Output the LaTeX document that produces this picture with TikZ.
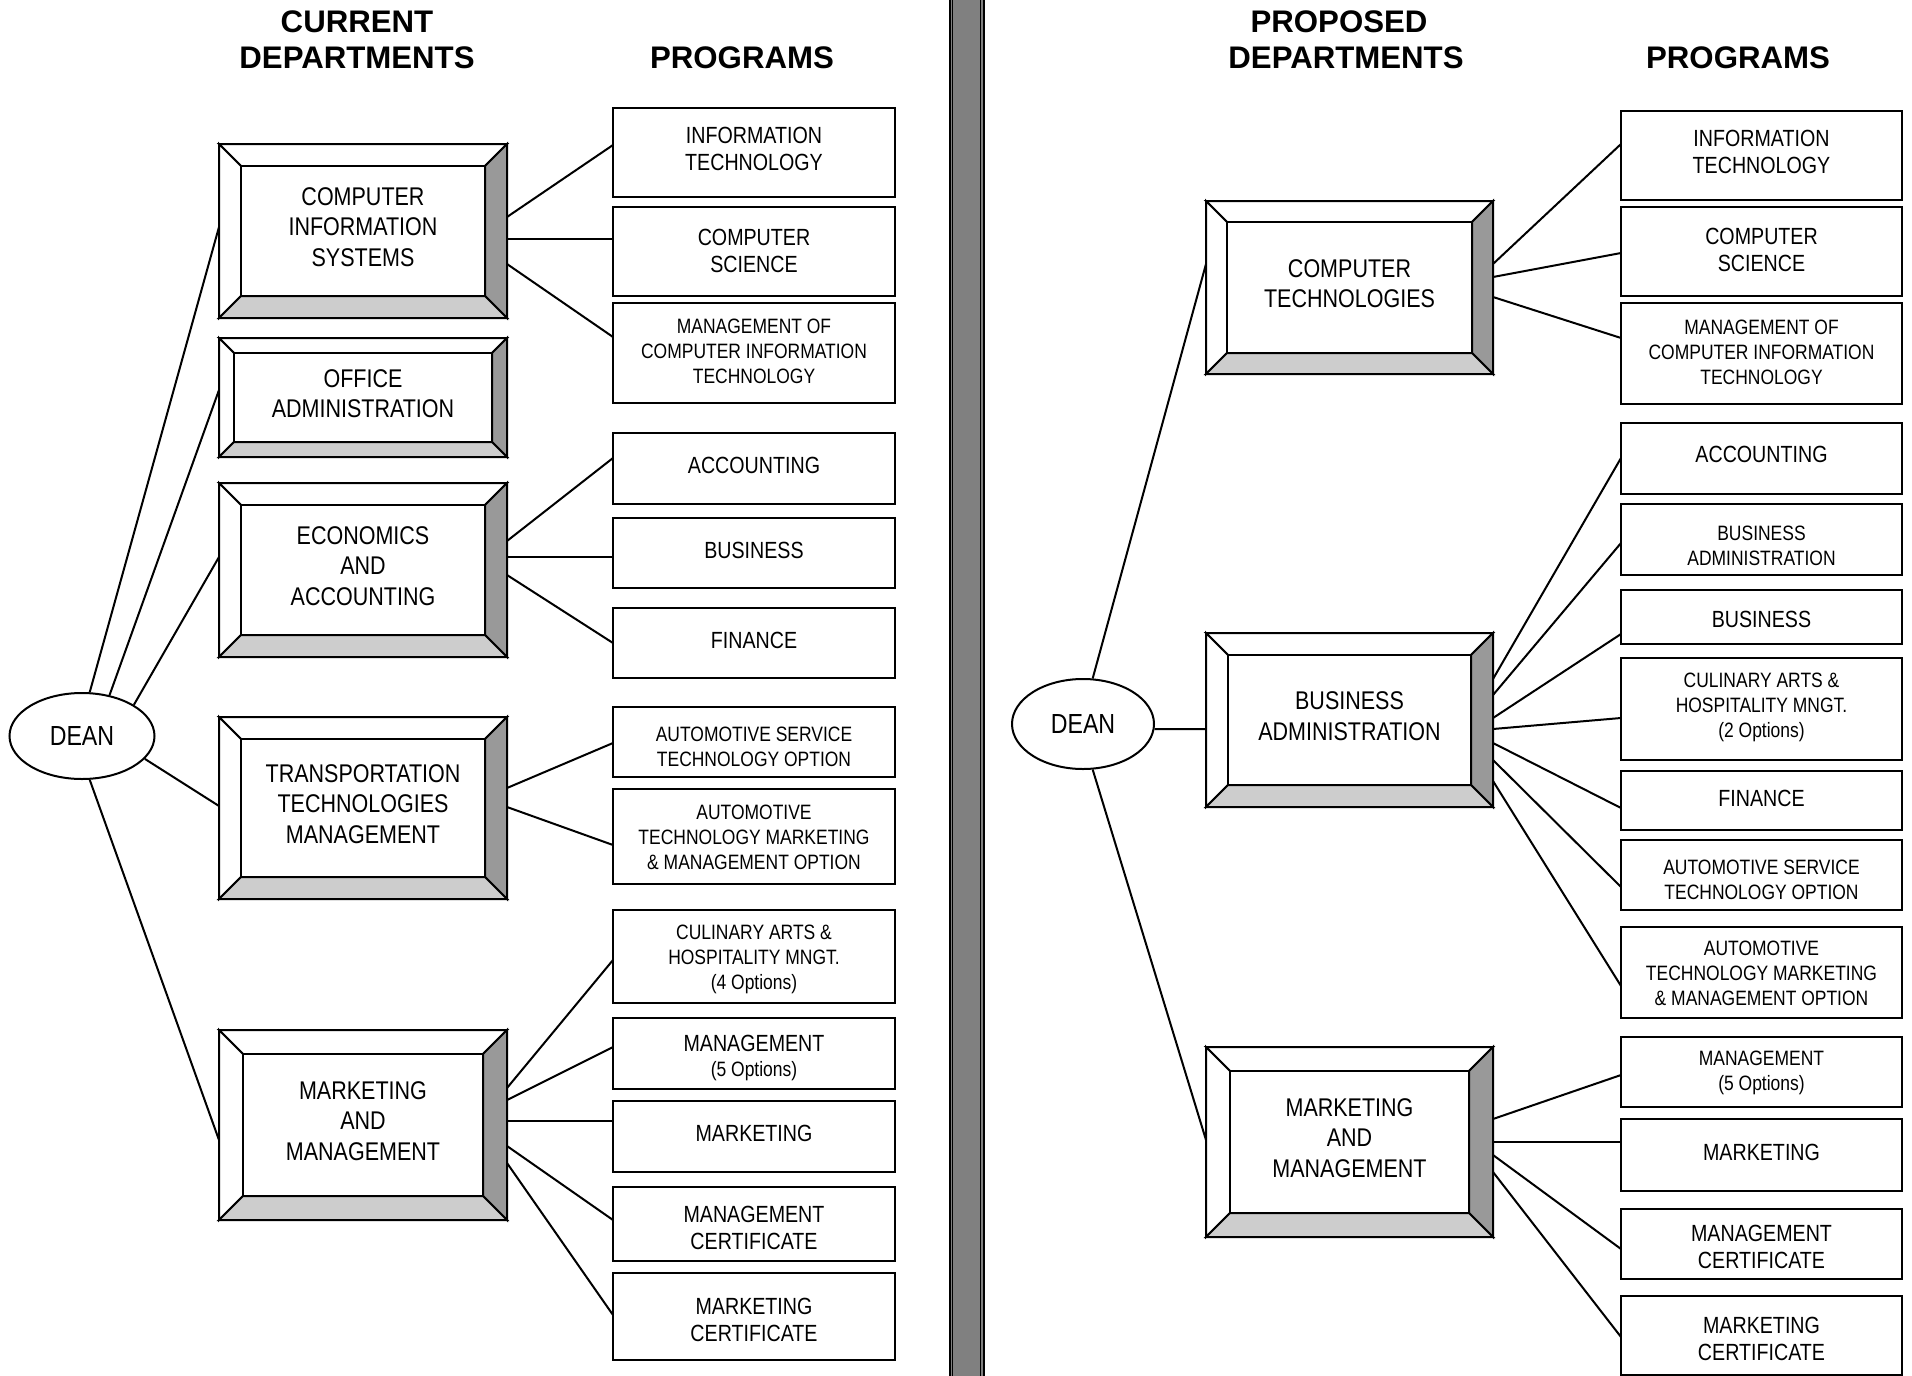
\documentclass[tikz,border=0pt]{standalone}
\usepackage{fontspec}
\setmainfont{Liberation Sans}
\newfontfamily\narrowfont[FakeStretch=0.84]{Liberation Sans}
\usetikzlibrary{calc,shapes.geometric}
\definecolor{bevelR}{HTML}{999999}
\definecolor{bevelB}{HTML}{CDCDCD}
\definecolor{divgray}{HTML}{808080}
\newcommand\psmall{\fontsize{10.4}{12.5}\selectfont}
\newcommand\plarge{\fontsize{11.7}{13.5}\selectfont}
\tikzset{
  frame/.style={draw, line width=1pt, inner sep=0pt, outer sep=0pt, fill=white},
  progtext/.style={align=center, inner sep=0pt, font=\narrowfont\plarge},
  progsmall/.style={align=center, inner sep=0pt, font=\narrowfont\psmall},
  depttext/.style={align=center, inner sep=0pt, font=\narrowfont\fontsize{12.8}{15.2}\selectfont},
  bevel/.style={draw, line width=1pt, line join=miter},
  conn/.style={draw, line width=1pt},
  head/.style={inner sep=0pt, font=\bfseries\fontsize{15.6}{18.3}\selectfont},
  dean/.style={ellipse, draw, line width=1pt, inner sep=0pt, fill=white, font=\narrowfont\fontsize{13.8}{16}\selectfont}
}
% #1 text style, #2 name, #3..#6 x1 y1 x2 y2, #7 text
\newcommand\progbox[7][progtext]{%
  \node[frame, minimum width={(#5-#3)*0.5pt}, minimum height={(#6-#4)*0.5pt}] (#2) at ({(#3+#5)/2},{(#4+#6)/2}) {};
  \node[progtext,#1] at ([yshift=2pt]#2.center) {#7};}
\newcommand\deptbox[7]{%
  \node[frame, minimum width={(#4-#2)*0.5pt}, minimum height={(#5-#3)*0.5pt}] (#1) at ({(#2+#4)/2},{(#3+#5)/2}) {};
  \path[bevel, fill=white] (#1.north west) -- (#1.north east) -- ($(#1.north east)+(-#6,#6)$) -- ($(#1.north west)+(#6,#6)$) -- cycle;
  \path[bevel, fill=white] (#1.north west) -- ($(#1.north west)+(#6,#6)$) -- ($(#1.south west)+(#6,-#6)$) -- (#1.south west) -- cycle;
  \path[bevel, fill=bevelR] (#1.north east) -- (#1.south east) -- ($(#1.south east)+(-#6,-#6)$) -- ($(#1.north east)+(-#6,#6)$) -- cycle;
  \path[bevel, fill=bevelB] (#1.south west) -- (#1.south east) -- ($(#1.south east)+(-#6,-#6)$) -- ($(#1.south west)+(#6,-#6)$) -- cycle;
  \path[bevel, fill=white] ($(#1.north west)+(#6,#6)$) rectangle ($(#1.south east)+(-#6,-#6)$);
  \node[depttext] at ([yshift=2pt]#1.center) {#7};}
\newcommand\link[4]{\draw[conn] ($(#1.north east)+(0,#2)$) -- ($(#3.north west)+(0,#4)$);}
\begin{document}
\begin{tikzpicture}[x=0.5pt,y=-0.5pt]
\useasboundingbox (0,0) rectangle (1912,1376);
\fill[white] (0,0) rectangle (1912,1376);

% divider
\fill[divgray] (949,0) rectangle (985,1376);
\foreach \xx in {950,952.6,980.2,983.8} \draw[line width=0.7pt] (\xx,0) -- (\xx,1376);

% headings
\node[head] (h1) at (357,22) {CURRENT};
\node[head] (h2) at (357,58) {DEPARTMENTS};
\node[head] (h3) at (742,58) {PROGRAMS};
\node[head] (h4) at (1339,22) {PROPOSED};
\node[head] (h5) at (1346,58) {DEPARTMENTS};
\node[head] (h6) at (1738,58) {PROGRAMS};

% left departments
\deptbox{cis}{219}{144}{507}{318}{22}{COMPUTER\\INFORMATION\\SYSTEMS}
\deptbox{oa}{219}{338}{507}{457}{15}{OFFICE\\ADMINISTRATION}
\deptbox{eco}{219}{483}{507}{657}{22}{ECONOMICS\\AND\\ACCOUNTING}
\deptbox{tra}{219}{717}{507}{899}{22}{TRANSPORTATION\\TECHNOLOGIES\\MANAGEMENT}
\deptbox{mml}{219}{1030}{507}{1220}{24}{MARKETING\\AND\\MANAGEMENT}

% left programs
\progbox{pIT}{613}{108}{895}{197}{INFORMATION\\TECHNOLOGY}
\progbox[yshift=-1.8pt]{pCS}{613}{207}{895}{296}{COMPUTER\\SCIENCE}
\progbox[progsmall,yshift=-1.2pt]{pMCIT}{613}{303}{895}{403}{MANAGEMENT OF\\COMPUTER INFORMATION\\TECHNOLOGY}
\progbox[yshift=-0.5pt]{pACC}{613}{433}{895}{504}{ACCOUNTING}
\progbox[yshift=-0.5pt]{pBUS}{613}{518}{895}{588}{BUSINESS}
\progbox[yshift=-0.5pt]{pFIN}{613}{608}{895}{678}{FINANCE}
\progbox[progsmall,yshift=-4.4pt]{pAS}{613}{707}{895}{777}{AUTOMOTIVE SERVICE\\TECHNOLOGY OPTION}
\progbox[progsmall,yshift=-2.2pt]{pAT}{613}{789}{895}{884}{AUTOMOTIVE\\TECHNOLOGY MARKETING\\\& MANAGEMENT OPTION}
\progbox[progsmall,yshift=-3.6pt]{pCUL}{613}{910}{895}{1003}{CULINARY ARTS \&\\HOSPITALITY MNGT.\\(4 Options)}
\progbox[progsmall,yshift=-4.2pt]{pMAN}{613}{1018}{895}{1089}{\plarge MANAGEMENT\\\psmall (5 Options)}
\progbox[yshift=-0.5pt]{pMKT}{613}{1101}{895}{1172}{MARKETING}
\progbox[yshift=-4.2pt]{pMC}{613}{1187}{895}{1261}{MANAGEMENT\\CERTIFICATE}
\progbox[yshift=-3.6pt]{pKC}{613}{1273}{895}{1360}{MARKETING\\CERTIFICATE}

% right departments
\deptbox{ct}{1206}{201}{1493}{374}{21}{COMPUTER\\TECHNOLOGIES}
\deptbox{ba}{1206}{633}{1493}{807}{22}{BUSINESS\\ADMINISTRATION}
\deptbox{mmr}{1206}{1047}{1493}{1237}{24}{MARKETING\\AND\\MANAGEMENT}

% right programs
\progbox{qIT}{1621}{111}{1902}{200}{INFORMATION\\TECHNOLOGY}
\progbox[yshift=-1.2pt]{qCS}{1621}{207}{1902}{296}{COMPUTER\\SCIENCE}
\progbox[progsmall,yshift=-1.2pt]{qMCIT}{1621}{303}{1902}{404}{MANAGEMENT OF\\COMPUTER INFORMATION\\TECHNOLOGY}
\progbox{qACC}{1621}{423}{1902}{494}{ACCOUNTING}
\progbox[progsmall,yshift=-5.2pt]{qBA}{1621}{504}{1902}{575}{BUSINESS\\ADMINISTRATION}
\progbox[yshift=-3pt]{qBUS}{1621}{590}{1902}{644}{BUSINESS}
\progbox[progsmall,yshift=-1pt]{qCUL}{1621}{658}{1902}{760}{CULINARY ARTS \&\\HOSPITALITY MNGT.\\(2 Options)}
\progbox[yshift=-1.2pt]{qFIN}{1621}{771}{1902}{830}{FINANCE}
\progbox[progsmall,yshift=-4.2pt]{qAS}{1621}{840}{1902}{910}{AUTOMOTIVE SERVICE\\TECHNOLOGY OPTION}
\progbox[progsmall,yshift=-2.6pt]{qAT}{1621}{927}{1902}{1018}{AUTOMOTIVE\\TECHNOLOGY MARKETING\\\& MANAGEMENT OPTION}
\progbox[progsmall,yshift=-2.6pt]{qMAN}{1621}{1037}{1902}{1107}{MANAGEMENT\\(5 Options)}
\progbox[yshift=-0.5pt]{qMKT}{1621}{1119}{1902}{1191}{MARKETING}
\progbox[yshift=-3.6pt]{qMC}{1621}{1209}{1902}{1279}{MANAGEMENT\\CERTIFICATE}
\progbox[yshift=-3.6pt]{qKC}{1621}{1296}{1902}{1375}{MARKETING\\CERTIFICATE}

% deans
\node[dean, minimum width=72.5pt, minimum height=43pt] (deanL) at (82,736) {DEAN};
\node[dean, minimum width=71pt, minimum height=45pt] (deanR) at (1083,724) {DEAN};

% dean connectors
\draw[conn] (deanL.80) -- ($(cis.north west)+(0,83)$);
\draw[conn] (deanL.56) -- ($(oa.north west)+(0,52)$);
\draw[conn] (deanL.31) -- ($(eco.north west)+(0,74)$);
\draw[conn] (deanL.-20) -- ($(tra.north west)+(0,89)$);
\draw[conn] (deanL.-80) -- ($(mml.north west)+(0,110)$);
\draw[conn] (deanR.78) -- ($(ct.north west)+(0,63)$);
\draw[conn] (deanR.-4) -- ($(ba.north west)+(0,96)$);
\draw[conn] (deanR.-78) -- ($(mmr.north west)+(0,93)$);

% left program connectors
\link{cis}{73}{pIT}{37}
\link{cis}{95}{pCS}{32}
\link{cis}{120}{pMCIT}{34}
\link{eco}{58}{pACC}{25}
\link{eco}{74}{pBUS}{39}
\link{eco}{92}{pFIN}{35}
\link{tra}{71}{pAS}{36}
\link{tra}{90}{pAT}{56}
\link{mml}{58}{pCUL}{50}
\link{mml}{70}{pMAN}{29}
\link{mml}{91}{pMKT}{20}
\link{mml}{116}{pMC}{33}
\link{mml}{133}{pKC}{42}

% right program connectors
\link{ct}{63}{qIT}{33}
\link{ct}{76}{qCS}{46}
\link{ct}{96}{qMCIT}{35}
\link{ba}{46}{qACC}{35}
\link{ba}{62}{qBA}{39}
\link{ba}{85}{qBUS}{44}
\link{ba}{96}{qCUL}{60}
\link{ba}{110}{qFIN}{37}
\link{ba}{127}{qAS}{47}
\link{ba}{148}{qAT}{59}
\link{mmr}{72}{qMAN}{38}
\link{mmr}{95}{qMKT}{23}
\link{mmr}{108}{qMC}{40}
\link{mmr}{125}{qKC}{41}
\end{tikzpicture}
\end{document}
